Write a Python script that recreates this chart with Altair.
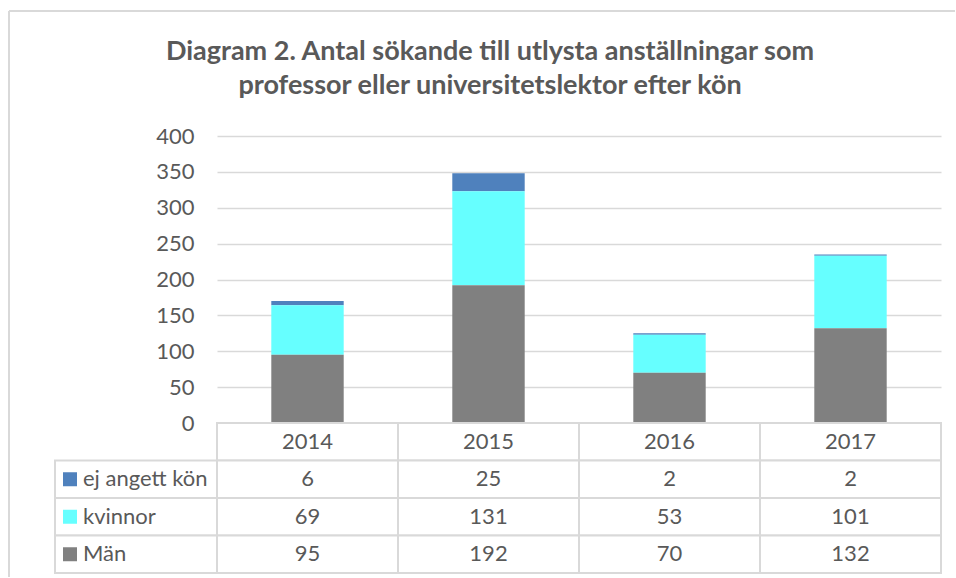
import altair as alt
import pandas as pd

years = ["2014", "2015", "2016", "2017"]
series = ["ej angett kön", "kvinnor", "Män"]
ej_angett = [6, 25, 2, 2]
kvinnor = [69, 131, 53, 101]
man = [95, 192, 70, 132]
colors = ["#4f81bd", "#66ffff", "#808080"]
title_lines = ["Diagram 2. Antal sökande till utlysta anställningar som",
               "professor eller universitetslektor efter kön"]

FONT = "Lato"
TXT = "#595959"
GRID = "#d9d9d9"
FS = 22

values_by_series = {"ej angett kön": ej_angett, "kvinnor": kvinnor, "Män": man}
stack_order = {"Män": 0, "kvinnor": 1, "ej angett kön": 2}

rows = []
for s in series:
    for y, v in zip(years, values_by_series[s]):
        rows.append({"year": y, "series": s, "value": v, "ord": stack_order[s]})
df = pd.DataFrame(rows)

trows = []
for y in years:
    trows.append({"year": y, "row": "hdr", "text": y})
for s in series:
    for y, v in zip(years, values_by_series[s]):
        trows.append({"year": y, "row": s, "text": str(v)})
tdf = pd.DataFrame(trows)
ldf = pd.DataFrame({"row": series, "series": series})

color_scale = alt.Scale(domain=series, range=colors)
W, H = 724, 287

bars = alt.Chart(df).mark_bar().encode(
    x=alt.X("year:N", axis=None,
            scale=alt.Scale(domain=years, paddingInner=0.6, paddingOuter=0.3)),
    y=alt.Y("value:Q", stack="zero",
            scale=alt.Scale(domain=[0, 400], nice=False),
            axis=alt.Axis(values=list(range(0, 401, 50)), title=None,
                          ticks=False, domain=False, labelPadding=23,
                          labelFont=FONT, labelFontSize=FS, labelColor=TXT,
                          gridColor=GRID, gridWidth=1.5)),
    color=alt.Color("series:N", scale=color_scale, legend=None),
    order=alt.Order("ord:Q", sort="ascending"),
)

border_top = alt.Chart(alt.Data(values=[{}])).mark_rule(color=GRID, strokeWidth=2).encode(
    x=alt.value(-208), x2=alt.value(738), y=alt.value(-125))
border_left = alt.Chart(alt.Data(values=[{}])).mark_rule(color=GRID, strokeWidth=2).encode(
    x=alt.value(-208), y=alt.value(-125), y2=alt.value(441))

top = alt.layer(bars, border_top, border_left).properties(width=W, height=H)

ydom = ["hdr"] + series
xs = alt.X("year:N", axis=None, scale=alt.Scale(domain=years, paddingInner=0, paddingOuter=0))
ys = alt.Y("row:N", axis=None, scale=alt.Scale(domain=ydom, paddingInner=0, paddingOuter=0))

cells = alt.Chart(tdf).mark_rect(fill="white", stroke=GRID, strokeWidth=2).encode(x=xs, y=ys)
cell_text = alt.Chart(tdf).mark_text(font=FONT, fontSize=FS, color=TXT, baseline="middle").encode(
    x=xs, y=ys, text="text:N")
label_cells = alt.Chart(ldf).mark_rect(fill="white", stroke=GRID, strokeWidth=2).encode(
    x=alt.value(-162), x2=alt.value(0), y=ys)
squares = alt.Chart(ldf).mark_square(size=196, opacity=1).encode(
    x=alt.value(-147), y=ys,
    color=alt.Color("series:N", scale=color_scale, legend=None))
label_text = alt.Chart(ldf).mark_text(font=FONT, fontSize=FS, color=TXT, align="left",
                                      baseline="middle").encode(
    x=alt.value(-134), y=ys, text="row:N")

table = alt.layer(cells, label_cells, squares, label_text, cell_text).properties(width=W, height=150)

chart = alt.vconcat(top, table, spacing=0, bounds="flush").resolve_scale(
    x="independent", y="independent", color="independent"
).properties(
    title=alt.TitleParams(text=title_lines, font=FONT, fontSize=27, fontWeight="bold",
                          color=TXT, anchor="middle", dx=8, lineHeight=34, offset=-90),
    padding={"left": 8, "top": 10, "right": 0, "bottom": 0},
    background="white",
).configure_view(stroke=None)

chart.save("out.html", embed_options={"renderer": "svg", "actions": False})
